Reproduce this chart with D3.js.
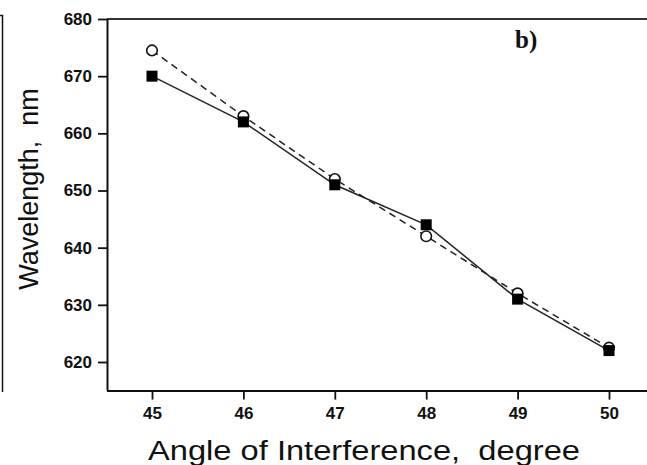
<!DOCTYPE html>
<html><head><meta charset="utf-8">
<script src="https://cdn.jsdelivr.net/npm/d3@7"></script>
<style>body{margin:0;background:#fff}svg{display:block}</style>
</head><body>
<svg id="c" width="647" height="465"></svg>
<script>
const angles = [45, 46, 47, 48, 49, 50];
const squareValues = [670, 662, 651, 644, 631, 622];
const circleValues = [674.5, 663, 652, 642, 632, 622.5];
const yTicks = [620, 630, 640, 650, 660, 670, 680];
const xTicks = [45, 46, 47, 48, 49, 50];

(function () {
const svg = d3.select("#c");
const x = d3.scaleLinear().domain([45, 50]).range([152, 609]);
const y = d3.scaleLinear().domain([620, 680]).range([362, 19]);
const pLeft = 107, pRight = 647, pTop = 19, pBottom = y(615);

// fragment of neighbouring panel
svg.append("path").attr("d", "M0,15.5H2.5V392").attr("fill", "none").attr("stroke", "#111").attr("stroke-width", 1.5);

// frame
svg.append("line").attr("x1", pLeft).attr("x2", pRight).attr("y1", pTop).attr("y2", pTop).attr("stroke", "#333").attr("stroke-width", 1.8);

const yAxis = svg.append("g").attr("transform", `translate(${pLeft},0)`)
  .call(d3.axisLeft(y).tickValues(yTicks).tickFormat(d3.format("d")).tickSize(9).tickPadding(6).tickSizeOuter(0));
yAxis.select(".domain").attr("d", `M0.5,${pTop}V${pBottom}`);
const xAxis = svg.append("g").attr("transform", `translate(0,${pBottom})`)
  .call(d3.axisBottom(x).tickValues(xTicks).tickFormat(d3.format("d")).tickSize(9).tickPadding(7).tickSizeOuter(0));
xAxis.select(".domain").attr("d", `M${pLeft},0.5H${pRight}`);
[yAxis, xAxis].forEach(g => {
  g.selectAll(".domain").attr("stroke", "#111").attr("stroke-width", 2);
  g.selectAll(".tick line").attr("stroke", "#111").attr("stroke-width", 1.8);
  g.selectAll("text").attr("font-family", "Liberation Sans, Arial, sans-serif").attr("font-weight", "bold").attr("font-size", 17).attr("fill", "#111");
});

const line = d3.line().x(d => x(d[0])).y(d => y(d[1]));
const sq = angles.map((a, i) => [a, squareValues[i]]);
const ci = angles.map((a, i) => [a, circleValues[i]]);

svg.append("path").datum(ci).attr("d", line).attr("fill", "none").attr("stroke", "#222").attr("stroke-width", 1.5).attr("stroke-dasharray", "7,5");
svg.append("path").datum(sq).attr("d", line).attr("fill", "none").attr("stroke", "#222").attr("stroke-width", 1.5);

svg.selectAll(".ci").data(ci).enter().append("circle")
  .attr("cx", d => x(d[0])).attr("cy", d => y(d[1])).attr("r", 5.3)
  .attr("fill", "#fff").attr("stroke", "#111").attr("stroke-width", 1.6);
svg.selectAll(".sq").data(sq).enter().append("rect")
  .attr("x", d => x(d[0]) - 5.5).attr("y", d => y(d[1]) - 5.5).attr("width", 11).attr("height", 11)
  .attr("fill", "#000");

svg.append("text").attr("x", 148).attr("y", 460)
  .attr("font-family", "Liberation Sans, Arial, sans-serif").attr("font-size", 27).attr("fill", "#111")
  .attr("textLength", 432).attr("lengthAdjust", "spacingAndGlyphs")
  .attr("xml:space", "preserve").text("Angle of Interference,  degree");
svg.append("text").attr("transform", "translate(38,189) rotate(-90)").attr("text-anchor", "middle")
  .attr("font-family", "Liberation Sans, Arial, sans-serif").attr("font-size", 27).attr("fill", "#111")
  .attr("xml:space", "preserve").text("Wavelength,  nm");
svg.append("text").attr("x", 515).attr("y", 48)
  .attr("font-family", "Liberation Serif, serif").attr("font-weight", "bold").attr("font-size", 25).attr("fill", "#111")
  .text("b)");
})();
</script>
</body></html>
